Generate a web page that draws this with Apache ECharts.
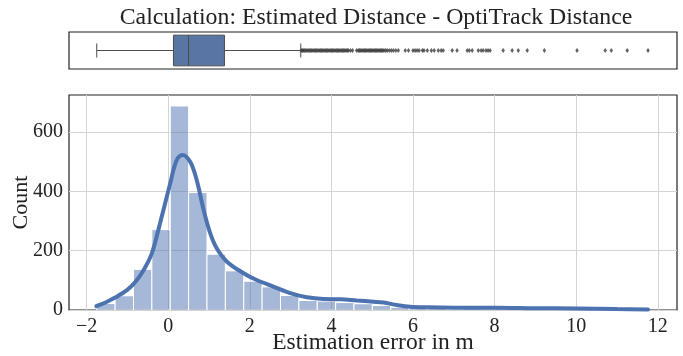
<!DOCTYPE html>
<html>
<head>
<meta charset="utf-8">
<script src="https://cdn.jsdelivr.net/npm/echarts@6/dist/echarts.min.js"></script>
<style>
html, body { margin: 0; padding: 0; background: #fff; }
#chart { width: 683px; height: 356px; }
</style>
</head>
<body>
<div id="chart"></div>
<script>
// histogram: 30 bins starting at data min
var binStart = -1.75;
var binWidth = 0.4503;
var binCounts = [22, 48, 137, 271, 688, 396, 188, 132, 97, 78, 49, 32, 30, 25, 21,
                 15, 9, 7, 5, 2, 5, 4, 3, 1, 1, 0, 1, 1, 2, 1];

// kde curve, scaled to counts
var kdeX = [-1.76, -1.5, -1.3, -1.01, -0.8, -0.6, -0.4, -0.2, 0.05, 0.21, 0.35, 0.54, 0.7, 0.87,
            1.03, 1.19, 1.44, 1.85, 2.17, 2.58, 2.99, 3.4, 3.81, 4.22, 4.62, 5.03, 5.28, 5.6,
            5.93, 6.34, 7.0, 8.0, 9.0, 10.0, 11.0, 11.76];
var kdeY = [13, 28, 42, 67, 95, 135, 191, 292, 427, 506, 523, 500, 438, 337,
            259, 208, 163, 124, 101, 79, 57, 43, 37, 36, 32, 28, 25, 17,
            11, 9, 8, 8, 6, 5, 3, 2];

// boxplot: min, q1, median, q3, upper whisker
var boxStats = [-1.75, 0.13, 0.50, 1.38, 3.25];
var outliers = [3.26, 3.29, 3.31, 3.34, 3.37, 3.40, 3.43, 3.46, 3.49, 3.52, 3.55, 3.58, 3.61, 3.64,
                3.67, 3.70, 3.73, 3.76, 3.79, 3.82, 3.85, 3.88, 3.91, 3.94, 3.97, 4.00, 4.03, 4.06,
                4.09, 4.12, 4.15, 4.18, 4.21, 4.24, 4.27, 4.30, 4.33, 4.36, 4.39, 4.42, 4.47, 4.52,
                4.62, 4.66, 4.69, 4.72, 4.75, 4.78, 4.81, 4.84, 4.87, 4.90, 4.93, 4.96, 4.99, 5.02,
                5.05, 5.08, 5.11, 5.14, 5.17, 5.20, 5.23, 5.26, 5.29, 5.33, 5.37, 5.42, 5.47, 5.52,
                5.58, 5.64, 5.81, 5.89, 6.00, 6.05, 6.10, 6.15, 6.23, 6.27, 6.35, 6.45, 6.52, 6.62,
                6.69, 6.74, 6.96, 7.08, 7.33, 7.38, 7.45, 7.60, 7.67, 7.72, 7.79, 7.84, 7.89, 8.21,
                8.43, 8.58, 8.80, 9.22, 10.02, 10.71, 10.86, 11.25, 11.76];

var xTicks = [-2, 0, 2, 4, 6, 8, 10, 12];
var yTicks = [0, 200, 400, 600];
var xMin = -2.43, xMax = 12.47;

var font = 'Liberation Serif';
var ink = '#222';
var blue = '#4c72b0';

var binData = binCounts.map(function (c, i) {
    var x0 = binStart + i * binWidth;
    return [x0, x0 + binWidth, c];
});
var kdeData = kdeX.map(function (x, i) { return [x, kdeY[i]]; });
var outlierData = outliers.map(function (v) { return [v, 0]; });

function fmt(v) {
    return v < 0 ? '\u2212' + Math.abs(v) : String(v);
}

var chart = echarts.init(document.getElementById('chart'));

var option = {
    animation: false,
    textStyle: { fontFamily: font, color: ink },
    title: {
        text: 'Calculation: Estimated Distance - OptiTrack Distance',
        left: 371,
        textAlign: 'center',
        top: 1,
        textStyle: { fontFamily: font, fontSize: 23.8, fontWeight: 'normal', color: ink }
    },
    grid: [
        { left: 69, width: 608, top: 32, height: 37, show: true, borderColor: ink, borderWidth: 1.2,
          backgroundColor: 'transparent', outerBoundsMode: 'none', containLabel: false },
        { left: 69, width: 608, top: 95, height: 215, show: true, borderColor: ink, borderWidth: 1.2,
          backgroundColor: 'transparent', outerBoundsMode: 'none', containLabel: false }
    ],
    xAxis: [{
        type: 'value', gridIndex: 0, min: xMin, max: xMax,
        axisLine: { show: false }, axisTick: { show: false },
        axisLabel: { show: false }, splitLine: { show: false }
    }, {
        type: 'value', gridIndex: 1, min: xMin, max: xMax,
        name: 'Estimation error in m',
        nameLocation: 'middle',
        nameGap: 21,
        nameMoveOverlap: false,
        nameTextStyle: { fontFamily: font, fontSize: 23.5, color: ink },
        axisLine: { show: false },
        axisTick: { show: false, customValues: xTicks },
        axisLabel: {
            customValues: xTicks, formatter: fmt, margin: 7,
            fontFamily: font, fontSize: 20, color: ink
        },
        splitLine: { show: true, lineStyle: { color: '#d4d4d4', width: 1 } }
    }],
    yAxis: [{
        type: 'category', gridIndex: 0, data: ['d'],
        axisLine: { show: false }, axisTick: { show: false },
        axisLabel: { show: false }, splitLine: { show: false }
    }, {
        type: 'value', gridIndex: 1, min: 0, max: 725,
        name: 'Count',
        nameLocation: 'middle',
        nameGap: 37,
        nameMoveOverlap: false,
        nameTextStyle: { fontFamily: font, fontSize: 22, color: ink },
        axisLine: { show: false },
        axisTick: { show: false, customValues: yTicks },
        axisLabel: { customValues: yTicks, margin: 6, fontFamily: font, fontSize: 20, color: ink },
        splitLine: { show: true, lineStyle: { color: '#d4d4d4', width: 1 } }
    }],
    series: [{
        // box + whiskers
        type: 'custom',
        xAxisIndex: 0, yAxisIndex: 0,
        data: [boxStats.concat([0])],
        encode: { x: [0, 1, 2, 3, 4], y: 5 },
        renderItem: function (params, api) {
            var cat = api.value(5);
            var band = api.size([0, 1])[1];
            var pMin = api.coord([api.value(0), cat]);
            var pQ1 = api.coord([api.value(1), cat]);
            var pMed = api.coord([api.value(2), cat]);
            var pQ3 = api.coord([api.value(3), cat]);
            var pMax = api.coord([api.value(4), cat]);
            var yc = pMed[1];
            var h = band * 0.415;
            var c = band * 0.19;
            var line = { stroke: '#4d4d4d', lineWidth: 1 };
            return {
                type: 'group',
                children: [
                    { type: 'line', shape: { x1: pMin[0], y1: yc, x2: pQ1[0], y2: yc }, style: line },
                    { type: 'line', shape: { x1: pQ3[0], y1: yc, x2: pMax[0], y2: yc }, style: line },
                    { type: 'line', shape: { x1: pMin[0], y1: yc - c, x2: pMin[0], y2: yc + c }, style: line },
                    { type: 'line', shape: { x1: pMax[0], y1: yc - c, x2: pMax[0], y2: yc + c }, style: line },
                    { type: 'rect', shape: { x: pQ1[0], y: yc - h, width: pQ3[0] - pQ1[0], height: 2 * h },
                      style: { fill: '#5975a4', stroke: '#4d4d4d', lineWidth: 1 } },
                    { type: 'line', shape: { x1: pMed[0], y1: yc - h, x2: pMed[0], y2: yc + h }, style: line }
                ]
            };
        }
    }, {
        type: 'scatter',
        xAxisIndex: 0, yAxisIndex: 0,
        data: outlierData,
        symbol: 'diamond',
        symbolSize: [3.5, 5],
        itemStyle: { color: '#3d3d3d' },
        z: 3
    }, {
        // histogram bars
        type: 'custom',
        xAxisIndex: 1, yAxisIndex: 1,
        data: binData,
        encode: { x: [0, 1], y: 2 },
        clip: true,
        renderItem: function (params, api) {
            var p0 = api.coord([api.value(0), 0]);
            var p1 = api.coord([api.value(1), api.value(2)]);
            return {
                type: 'rect',
                shape: { x: p0[0], y: p1[1], width: p1[0] - p0[0], height: p0[1] - p1[1] },
                style: { fill: 'rgba(76,114,176,0.5)', stroke: '#fff', lineWidth: 1 }
            };
        },
        z: 2
    }, {
        type: 'line',
        xAxisIndex: 1, yAxisIndex: 1,
        data: kdeData,
        smooth: 0.35,
        symbol: 'none',
        lineStyle: { color: blue, width: 4, cap: 'round' },
        z: 4
    }]
};

option && chart.setOption(option);
window.addEventListener('resize', chart.resize);
</script>
</body>
</html>
